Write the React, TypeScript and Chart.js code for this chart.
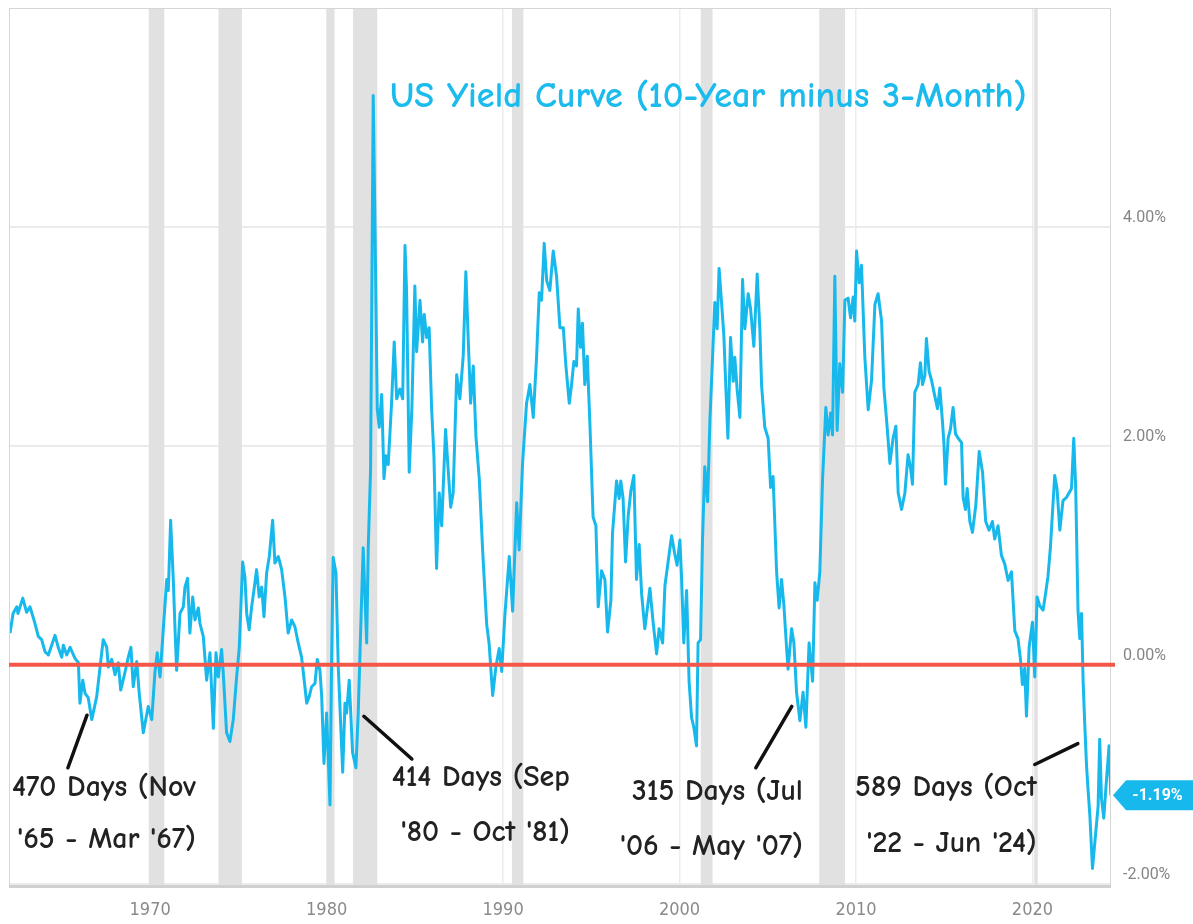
import { useEffect, useRef } from "react";
import { Chart, registerables } from "chart.js";

Chart.register(...registerables);

// ---- data (decimal year, spread in %) ----
const YEARS = [
  1962.06, 1962.23, 1962.44, 1962.51, 1962.78, 1963.0, 1963.19, 1963.47, 1963.66, 1963.85,
  1964.04, 1964.23, 1964.61, 1964.79, 1964.99, 1965.08, 1965.27, 1965.46, 1965.74, 1965.93,
  1966.02, 1966.18, 1966.31, 1966.49, 1966.69, 1966.97, 1967.16, 1967.34, 1967.54, 1967.63,
  1967.82, 1968.01, 1968.19, 1968.33, 1968.57, 1968.76, 1968.91, 1969.04, 1969.24, 1969.38,
  1969.61, 1969.89, 1970.09, 1970.27, 1970.4, 1970.56, 1970.74, 1970.94, 1971.03, 1971.16,
  1971.31, 1971.41, 1971.5, 1971.69, 1971.88, 1971.97, 1972.12, 1972.25, 1972.41, 1972.54,
  1972.73, 1972.82, 1973.01, 1973.2, 1973.39, 1973.58, 1973.73, 1973.86, 1974.05, 1974.14,
  1974.33, 1974.52, 1974.71, 1974.9, 1975.05, 1975.24, 1975.37, 1975.47, 1975.61, 1975.75,
  1975.88, 1976.03, 1976.18, 1976.32, 1976.45, 1976.6, 1976.75, 1976.94, 1977.07, 1977.26,
  1977.45, 1977.64, 1977.82, 1978.02, 1978.2, 1978.39, 1978.58, 1978.77, 1978.87, 1979.01,
  1979.15, 1979.34, 1979.47, 1979.62, 1979.72, 1979.85, 1980.0, 1980.19, 1980.28, 1980.37,
  1980.53, 1980.66, 1980.91, 1981.04, 1981.13, 1981.28, 1981.47, 1981.66, 1981.79, 1981.93,
  1982.07, 1982.27, 1982.36, 1982.49, 1982.64, 1982.75, 1982.87, 1982.98, 1983.12, 1983.25,
  1983.36, 1983.49, 1983.68, 1983.83, 1983.97, 1984.15, 1984.31, 1984.44, 1984.53, 1984.68,
  1984.83, 1985.0, 1985.1, 1985.29, 1985.44, 1985.53, 1985.67, 1985.81, 1985.95, 1986.08,
  1986.23, 1986.38, 1986.52, 1986.74, 1986.89, 1987.03, 1987.17, 1987.37, 1987.55, 1987.74,
  1987.89, 1988.02, 1988.16, 1988.31, 1988.46, 1988.65, 1988.84, 1989.07, 1989.21, 1989.41,
  1989.59, 1989.78, 1989.92, 1990.1, 1990.35, 1990.54, 1990.77, 1990.91, 1991.1, 1991.33,
  1991.52, 1991.71, 1991.9, 1992.05, 1992.18, 1992.33, 1992.47, 1992.65, 1992.84, 1993.03,
  1993.22, 1993.41, 1993.56, 1993.75, 1993.88, 1994.01, 1994.16, 1994.26, 1994.39, 1994.5,
  1994.63, 1994.77, 1994.92, 1995.1, 1995.26, 1995.39, 1995.58, 1995.77, 1995.92, 1996.11,
  1996.2, 1996.43, 1996.58, 1996.67, 1996.8, 1996.94, 1997.09, 1997.24, 1997.41, 1997.56,
  1997.71, 1997.85, 1998.03, 1998.32, 1998.5, 1998.7, 1998.84, 1999.04, 1999.17, 1999.35,
  1999.55, 1999.73, 1999.86, 2000.02, 2000.11, 2000.24, 2000.4, 2000.54, 2000.68, 2000.81,
  2000.96, 2001.05, 2001.19, 2001.3, 2001.43, 2001.59, 2001.72, 2001.87, 2002.0, 2002.13,
  2002.24, 2002.38, 2002.51, 2002.62, 2002.74, 2002.89, 2003.04, 2003.13, 2003.26, 2003.42,
  2003.57, 2003.7, 2003.89, 2004.02, 2004.21, 2004.4, 2004.55, 2004.65, 2004.83, 2005.02,
  2005.16, 2005.3, 2005.5, 2005.64, 2005.78, 2005.91, 2006.06, 2006.15, 2006.35, 2006.48,
  2006.63, 2006.82, 2007.0, 2007.16, 2007.34, 2007.54, 2007.67, 2007.8, 2007.95, 2008.1,
  2008.29, 2008.42, 2008.56, 2008.67, 2008.8, 2008.93, 2009.08, 2009.24, 2009.37, 2009.55,
  2009.69, 2009.84, 2009.93, 2010.03, 2010.18, 2010.31, 2010.5, 2010.69, 2010.88, 2011.07,
  2011.25, 2011.45, 2011.58, 2011.76, 2011.92, 2012.1, 2012.26, 2012.39, 2012.58, 2012.77,
  2012.95, 2013.09, 2013.2, 2013.33, 2013.52, 2013.65, 2013.77, 2013.9, 2013.99, 2014.14,
  2014.28, 2014.47, 2014.62, 2014.75, 2014.9, 2014.98, 2015.07, 2015.22, 2015.35, 2015.5,
  2015.64, 2015.79, 2015.98, 2016.07, 2016.2, 2016.3, 2016.45, 2016.6, 2016.79, 2016.98,
  2017.17, 2017.35, 2017.54, 2017.73, 2017.86, 2018.05, 2018.24, 2018.43, 2018.62, 2018.81,
  2019.0, 2019.18, 2019.32, 2019.43, 2019.56, 2019.66, 2019.81, 2020.0, 2020.13, 2020.26,
  2020.41, 2020.6, 2020.75, 2020.88, 2021.02, 2021.13, 2021.26, 2021.39, 2021.55, 2021.73,
  2021.93, 2022.07, 2022.21, 2022.34, 2022.45, 2022.58, 2022.68, 2022.78, 2022.87, 2022.96,
  2023.06, 2023.15, 2023.25, 2023.4, 2023.53, 2023.72, 2023.81, 2023.91, 2024.04, 2024.19,
  2024.34, 2024.44,
];

const SPREAD = [
  0.29, 0.47, 0.53, 0.47, 0.61, 0.48, 0.53, 0.38, 0.26, 0.23,
  0.12, 0.09, 0.27, 0.16, 0.07, 0.18, 0.09, 0.16, 0.06, 0.02,
  -0.35, -0.14, -0.26, -0.3, -0.5, -0.29, -0.02, 0.23, 0.16, -0.02,
  0.05, -0.09, 0.02, -0.23, -0.07, 0.07, 0.16, -0.2, 0.03, -0.26,
  -0.62, -0.38, -0.5, -0.07, 0.11, -0.11, 0.32, 0.78, 0.68, 1.32,
  0.78, 0.32, -0.05, 0.47, 0.53, 0.71, 0.79, 0.29, 0.62, 0.41,
  0.52, 0.38, 0.26, -0.14, 0.11, -0.58, 0.11, -0.11, 0.14, -0.07,
  -0.62, -0.7, -0.5, -0.11, 0.16, 0.94, 0.8, 0.47, 0.32, 0.53,
  0.68, 0.87, 0.62, 0.71, 0.44, 0.84, 0.99, 1.32, 0.93, 0.99,
  0.87, 0.62, 0.29, 0.41, 0.35, 0.2, 0.07, -0.2, -0.35, -0.29,
  -0.2, -0.17, 0.05, -0.05, -0.29, -0.9, -0.44, -1.28, 0.02, 0.98,
  0.84, -0.02, -0.98, -0.35, -0.44, -0.14, -0.8, -0.94, -0.44, 0.32,
  1.07, 0.2, 1.08, 1.78, 5.2, 3.89, 2.34, 2.17, 2.47, 1.7,
  1.91, 1.83, 2.39, 2.95, 2.43, 2.52, 2.43, 3.83, 3.42, 1.76,
  2.34, 3.46, 2.86, 3.33, 2.95, 3.2, 2.99, 3.08, 2.34, 1.91,
  0.88, 1.57, 1.27, 2.15, 1.78, 1.44, 1.57, 2.65, 2.43, 2.82,
  3.59, 2.99, 2.39, 2.73, 2.09, 1.7, 1.05, 0.37, 0.19, -0.28,
  -0.02, 0.15, -0.06, 0.45, 0.99, 0.49, 1.48, 1.05, 1.83, 2.39,
  2.56, 2.26, 2.82, 3.4, 3.33, 3.85, 3.51, 3.42, 3.78, 3.55,
  3.08, 3.08, 2.73, 2.39, 2.56, 2.77, 2.73, 3.25, 2.9, 3.12,
  2.56, 2.82, 2.2, 1.35, 1.27, 0.53, 0.86, 0.78, 0.3, 0.59,
  1.2, 1.68, 1.52, 1.68, 1.52, 0.94, 1.36, 1.59, 1.73, 0.78,
  1.1, 0.65, 0.33, 0.7, 0.39, 0.1, 0.33, 0.2, 0.72, 0.94,
  1.18, 1.01, 0.91, 1.14, 0.81, 0.2, 0.68, -0.15, -0.48, -0.57,
  -0.74, 0.2, 0.23, 1.14, 1.81, 1.49, 2.23, 2.81, 3.31, 3.07,
  3.62, 3.31, 3.01, 2.55, 2.07, 2.99, 2.59, 2.81, 2.52, 2.26,
  3.52, 3.07, 3.39, 3.26, 2.91, 3.57, 3.07, 2.55, 2.17, 2.07,
  1.62, 1.72, 0.85, 0.52, 0.78, 0.55, 0.17, -0.04, 0.33, 0.2,
  -0.25, -0.51, -0.25, -0.57, 0.2, -0.15, 0.75, 0.59, 0.85, 1.68,
  2.35, 2.1, 2.3, 2.1, 3.55, 2.14, 2.75, 2.49, 3.33, 3.35,
  3.17, 3.36, 3.14, 3.78, 3.49, 3.65, 2.81, 2.33, 2.6, 3.29,
  3.39, 3.14, 2.53, 2.18, 1.84, 2.07, 2.18, 1.57, 1.42, 1.57,
  1.92, 1.8, 1.65, 2.49, 2.56, 2.76, 2.56, 2.64, 2.98, 2.68,
  2.6, 2.45, 2.34, 2.53, 2.22, 2.03, 1.65, 2.07, 2.15, 2.35,
  2.11, 2.07, 2.03, 1.53, 1.42, 1.61, 1.31, 1.21, 1.46, 1.95,
  1.76, 1.31, 1.23, 1.31, 1.15, 1.27, 1.0, 0.92, 0.77, 0.85,
  0.31, 0.24, 0.05, -0.18, -0.03, -0.47, 0.16, 0.39, -0.11, 0.62,
  0.54, 0.5, 0.66, 0.81, 1.08, 1.38, 1.73, 1.61, 1.23, 1.5,
  1.53, 1.57, 1.61, 2.07, 1.61, 0.5, 0.24, 0.47, -0.15, -0.53,
  -0.91, -1.14, -1.37, -1.86, -1.63, -1.29, -0.68, -1.22, -1.4, -1.06,
  -0.74, -1.19,
];

const DECADE_TICKS = [1970, 1980, 1990, 2000, 2010, 2020];
const PCT_TICKS = [-2, 0, 2, 4];

const RECESSION_START = [1969.92, 1973.87, 1980.0, 1981.5, 1990.5, 2001.2, 2007.92, 2020.1];
const RECESSION_END = [1970.8, 1975.2, 1980.45, 1982.87, 1991.15, 2001.87, 2009.38, 2020.3];

const TITLE_TEXT = "US Yield Curve (10-Year minus 3-Month)";
const TITLE_YEAR = 1983.59;
const TITLE_VALUE = 5.19;

const NOTE_LINE1 = ["470 Days (Nov", "414 Days (Sep", "315 Days (Jul", "589 Days (Oct"];
const NOTE_LINE2 = ["'65 - Mar '67)", "'80 - Oct '81)", "'06 - May '07)", "'22 - Jun '24)"];
const NOTE_RIGHT_YEAR = [1972.59, 1993.78, 2006.99, 2020.24];
const NOTE_VALUE1 = [-1.12, -1.03, -1.16, -1.12];
const NOTE_VALUE2 = [-1.6, -1.53, -1.66, -1.63];
const POINTER_FROM_YEAR = [1965.34, 1982.11, 2006.36, 2020.13];
const POINTER_FROM_VALUE = [-0.94, -0.47, -0.38, -0.91];
const POINTER_TO_YEAR = [1966.42, 1984.83, 2004.32, 2022.57];
const POINTER_TO_VALUE = [-0.46, -0.86, -0.94, -0.72];

const X_MIN = 1962;
const X_MAX = 2024.45;
const Y_MIN = -2.02;
const Y_MAX = 6.0;

const LINE_COLOR = "#17b9ec";
const HAND_FONT = '"Comic Sans MS", "Comic Neue", "DejaVu Sans Condensed", "DejaVu Sans", sans-serif';

function fitSize(ctx: CanvasRenderingContext2D, text: string, target: number, weight: string, family: string) {
  ctx.font = `${weight} 100px ${family}`;
  const w = ctx.measureText(text).width;
  return (100 * target) / w;
}

const decorPlugin = {
  id: "decor",
  beforeDatasetsDraw(chart: any) {
    const { ctx, chartArea: a, scales } = chart;
    const x = scales.x;
    ctx.save();
    ctx.fillStyle = "#e1e1e1";
    RECESSION_START.forEach((s, i) => {
      const x0 = x.getPixelForValue(s);
      const x1 = x.getPixelForValue(RECESSION_END[i]);
      ctx.fillRect(x0, a.top, x1 - x0, a.bottom - a.top);
    });
    ctx.restore();
  },
  afterDatasetsDraw(chart: any) {
    const { ctx, chartArea: a, scales } = chart;
    const y = scales.y;
    ctx.save();
    // plot frame
    ctx.strokeStyle = "#d6d6d6";
    ctx.lineWidth = 1;
    ctx.strokeRect(a.left + 0.5, a.top + 0.5, a.right - a.left - 1, a.bottom - a.top);
    ctx.fillStyle = "#d0d0d0";
    ctx.fillRect(a.left, a.bottom - 1, a.right - a.left, 3);
    // zero line
    const y0 = y.getPixelForValue(0);
    ctx.strokeStyle = "#f4574a";
    ctx.lineWidth = 4;
    ctx.beginPath();
    ctx.moveTo(a.left, y0);
    ctx.lineTo(a.right + 4, y0);
    ctx.stroke();
    ctx.restore();
  },
  afterDraw(chart: any) {
    const { ctx, chartArea: a, scales } = chart;
    const x = scales.x;
    const y = scales.y;
    ctx.save();
    // title
    const tSize = fitSize(ctx, TITLE_TEXT, 637, "bold", HAND_FONT);
    ctx.font = `bold ${tSize}px ${HAND_FONT}`;
    ctx.fillStyle = "#1bbbee";
    ctx.textAlign = "left";
    ctx.textBaseline = "middle";
    ctx.fillText(TITLE_TEXT, x.getPixelForValue(TITLE_YEAR), y.getPixelForValue(TITLE_VALUE));

    // notes
    const nSize = fitSize(ctx, NOTE_LINE1[0], 184, "bold", HAND_FONT);
    ctx.font = `bold ${nSize}px ${HAND_FONT}`;
    ctx.fillStyle = "#222222";
    ctx.textAlign = "right";
    NOTE_LINE1.forEach((t, i) => {
      const rx = x.getPixelForValue(NOTE_RIGHT_YEAR[i]);
      ctx.fillText(t, rx, y.getPixelForValue(NOTE_VALUE1[i]));
      ctx.fillText(NOTE_LINE2[i], rx, y.getPixelForValue(NOTE_VALUE2[i]));
    });
    ctx.strokeStyle = "#111111";
    ctx.lineWidth = 3.5;
    ctx.lineCap = "round";
    POINTER_FROM_YEAR.forEach((fx, i) => {
      ctx.beginPath();
      ctx.moveTo(x.getPixelForValue(fx), y.getPixelForValue(POINTER_FROM_VALUE[i]));
      ctx.lineTo(x.getPixelForValue(POINTER_TO_YEAR[i]), y.getPixelForValue(POINTER_TO_VALUE[i]));
      ctx.stroke();
    });

    // last value tag
    const last = SPREAD[SPREAD.length - 1];
    const ty = y.getPixelForValue(last);
    const tl = a.right + 2;
    const h = 15;
    ctx.fillStyle = LINE_COLOR;
    ctx.beginPath();
    ctx.moveTo(tl, ty);
    ctx.lineTo(tl + 13, ty - h);
    ctx.lineTo(chart.width, ty - h);
    ctx.lineTo(chart.width, ty + h);
    ctx.lineTo(tl + 13, ty + h);
    ctx.closePath();
    ctx.fill();
    ctx.fillStyle = "#ffffff";
    ctx.font = 'bold 16px Roboto, "Noto Sans", sans-serif';
    ctx.textAlign = "center";
    ctx.textBaseline = "middle";
    ctx.fillText(`${last.toFixed(2)}%`, (tl + 13 + chart.width) / 2 - 2, ty + 1);
    ctx.restore();
  },
};

export default function App() {
  const ref = useRef<HTMLCanvasElement | null>(null);

  useEffect(() => {
    document.body.style.margin = "0";
    document.body.style.overflow = "hidden";
    const canvas = ref.current;
    if (!canvas) return;
    const chart = new Chart(canvas, {
      type: "line",
      data: {
        datasets: [
          {
            data: YEARS.map((yr, i) => ({ x: yr, y: SPREAD[i] })),
            borderColor: LINE_COLOR,
            borderWidth: 3,
            pointRadius: 0,
            tension: 0,
            borderJoinStyle: "round",
          } as any,
        ],
      },
      options: {
        responsive: false,
        animation: false,
        layout: { padding: { left: 9, top: 8, right: 0, bottom: 0 } },
        plugins: { legend: { display: false }, tooltip: { enabled: false } },
        scales: {
          x: {
            type: "linear",
            min: X_MIN,
            max: X_MAX,
            afterBuildTicks: (s: any) => {
              s.ticks = DECADE_TICKS.map((v) => ({ value: v }));
            },
            afterFit: (s: any) => {
              s.height = 38;
              s.paddingLeft = 0;
              s.paddingRight = 0;
            },
            grid: { color: "#ececec", lineWidth: 1.5, drawTicks: false },
            border: { display: false },
            ticks: {
              callback: (v: any) => String(v),
              color: "#8a8a8a",
              font: { family: '"Liberation Sans Narrow", "DejaVu Sans Condensed", sans-serif', size: 18 },
              padding: 14,
              maxRotation: 0,
              autoSkip: false,
            },
          },
          y: {
            type: "linear",
            position: "right",
            min: Y_MIN,
            max: Y_MAX,
            afterBuildTicks: (s: any) => {
              s.ticks = PCT_TICKS.map((v) => ({ value: v }));
            },
            afterFit: (s: any) => {
              s.width = 82;
              s.paddingTop = 0;
              s.paddingBottom = 0;
            },
            grid: { color: "#ebebeb", lineWidth: 2, drawTicks: false },
            border: { display: false },
            ticks: {
              callback: (v: any) => `${Number(v).toFixed(2)}%`,
              color: "#858585",
              font: { family: 'Roboto, "Noto Sans", sans-serif', size: 16 },
              padding: 12,
              labelOffset: -9,
            },
          },
        },
      } as any,
      plugins: [decorPlugin],
    });
    return () => chart.destroy();
  }, []);

  return (
    <div style={{ width: 1193, height: 924 }}>
      <canvas ref={ref} width={1193} height={924} style={{ display: "block" }} />
    </div>
  );
}
